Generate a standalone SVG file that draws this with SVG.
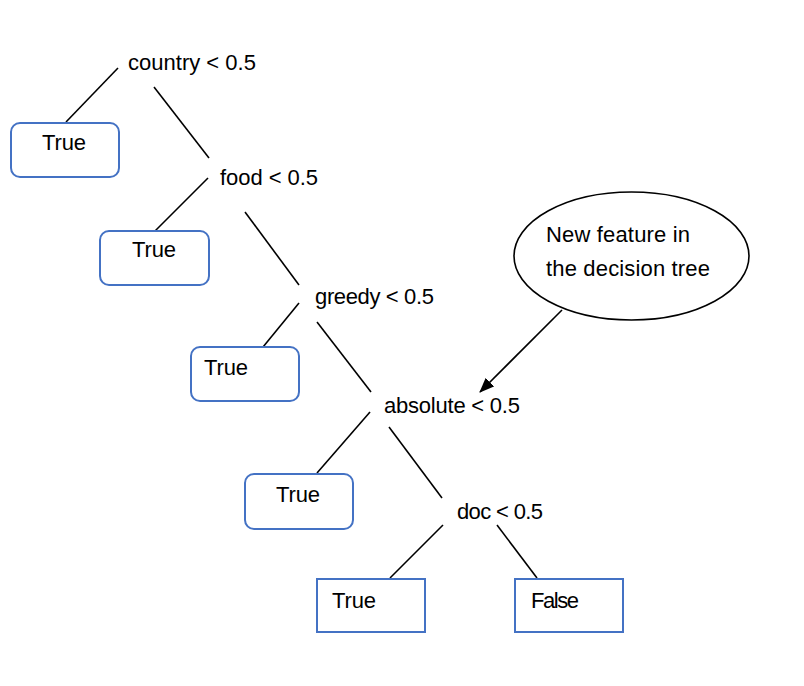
<svg xmlns="http://www.w3.org/2000/svg" width="804" height="686" viewBox="0 0 804 686">
<style>
.t{font-family:"Liberation Sans",Arial,sans-serif;font-size:22px;fill:#000}
.box{fill:#fff;stroke:#4472C4;stroke-width:2}
.ln{stroke:#000;stroke-width:1.6;fill:none}
</style>
<defs>
<marker id="ah" markerWidth="15" markerHeight="12" refX="14" refY="6" orient="auto" markerUnits="userSpaceOnUse" viewBox="0 0 15 12">
<path d="M0,0 L15,6 L0,12 z" fill="#000"/>
</marker>
</defs>
<rect width="804" height="686" fill="#fff"/>
<g id="connectors">
<line class="ln" x1="118" y1="68" x2="66" y2="122"/>
<line class="ln" x1="154" y1="87" x2="209" y2="158"/>
<line class="ln" x1="208" y1="178" x2="155" y2="231"/>
<line class="ln" x1="245" y1="212" x2="299" y2="285"/>
<line class="ln" x1="299" y1="303" x2="263" y2="347"/>
<line class="ln" x1="317" y1="322" x2="371" y2="392"/>
<line class="ln" x1="370" y1="412" x2="317" y2="473"/>
<line class="ln" x1="389" y1="427" x2="442" y2="498"/>
<line class="ln" x1="443" y1="525" x2="390" y2="578"/>
<line class="ln" x1="497" y1="525" x2="537" y2="578"/>
<line class="ln" x1="562" y1="310" x2="480" y2="392" marker-end="url(#ah)" stroke-width="2"/>
</g>
<g id="n-country"><text class="t" x="128" y="70" textLength="128">country &lt; 0.5</text></g>
<g id="n-true1"><rect class="box" x="11" y="123" width="108" height="54" rx="9"/><text class="t" x="42" y="150" textLength="44">True</text></g>
<g id="n-food"><text class="t" x="220" y="185" textLength="98">food &lt; 0.5</text></g>
<g id="n-true2"><rect class="box" x="100" y="231" width="109" height="54" rx="9"/><text class="t" x="132" y="257" textLength="44">True</text></g>
<g id="n-greedy"><text class="t" x="315" y="304" textLength="119">greedy &lt; 0.5</text></g>
<g id="n-true3"><rect class="box" x="191" y="347" width="108" height="54" rx="9"/><text class="t" x="204" y="375" textLength="44">True</text></g>
<g id="n-absolute"><text class="t" x="384" y="413" textLength="136">absolute &lt; 0.5</text></g>
<g id="n-true4"><rect class="box" x="245" y="474" width="108" height="55" rx="9"/><text class="t" x="276" y="502" textLength="44">True</text></g>
<g id="n-doc"><text class="t" x="457" y="519" textLength="86">doc &lt; 0.5</text></g>
<g id="n-true5"><rect class="box" x="317" y="579" width="108" height="53"/><text class="t" x="332" y="608" textLength="44">True</text></g>
<g id="n-false"><rect class="box" x="515" y="579" width="108" height="53"/><text class="t" x="531" y="608" textLength="48">False</text></g>
<g id="n-note"><ellipse cx="631.5" cy="256" rx="117.5" ry="64" fill="#fff" stroke="#000" stroke-width="1.6"/>
<text class="t" x="546" y="242" textLength="144">New feature in</text>
<text class="t" x="546" y="276" textLength="164">the decision tree</text></g>
</svg>
